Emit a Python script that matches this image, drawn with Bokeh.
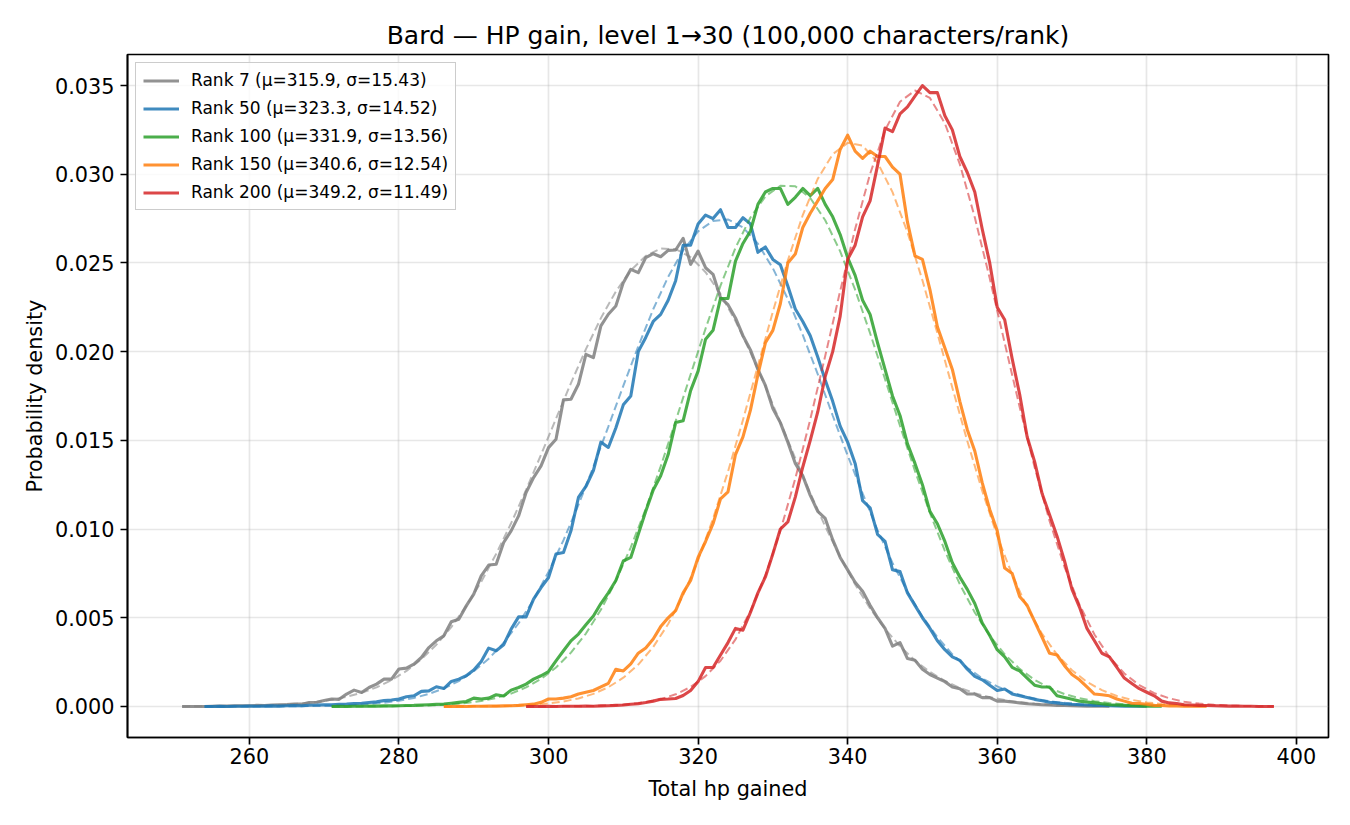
from bokeh.plotting import figure
from bokeh.models import Range1d, FixedTicker, PrintfTickFormatter, Legend, LegendItem
from bokeh.embed import file_html
from bokeh.resources import INLINE

FONT = "DejaVu Sans"

# ---------------- data ----------------
ranks = [7, 50, 100, 150, 200]
mus = [315.9, 323.3, 331.9, 340.6, 349.2]
sigmas = [15.43, 14.52, 13.56, 12.54, 11.49]
colors = ["#7f7f7f", "#1f77b4", "#2ca02c", "#ff7f0e", "#d62728"]

x_ticks = [260, 280, 300, 320, 340, 360, 380, 400]
y_ticks = [0.0, 0.005, 0.010, 0.015, 0.020, 0.025, 0.030, 0.035]

# empirical densities, one value per hp (first hp given by *_start)
rank7_start = 251
rank7_density = [
    0.0, 0.0, 0.0, 0.0, 0.00001, 0.00002, 0.00002, 0.00003, 0.00004, 0.00004,
    0.00006, 0.00005, 0.00008, 0.0001, 0.00011, 0.00014, 0.00013, 0.00022, 0.00024, 0.00033,
    0.00042, 0.0004, 0.0007, 0.00092, 0.00079, 0.00107, 0.00126, 0.00154, 0.00154, 0.00211,
    0.00216, 0.00239, 0.00276, 0.00332, 0.0037, 0.00398, 0.00477, 0.00492, 0.00567, 0.00633,
    0.00736, 0.00797, 0.00802, 0.00924, 0.0099, 0.01074, 0.01206, 0.0129, 0.01356, 0.01459,
    0.01506, 0.01728, 0.01732, 0.01816, 0.01985, 0.01966, 0.02145, 0.02211, 0.02257, 0.02389,
    0.02464, 0.02445, 0.0253, 0.02552, 0.02535, 0.02571, 0.02573, 0.02639, 0.02492, 0.02567,
    0.02473, 0.02436, 0.02304, 0.02265, 0.0219, 0.0209, 0.0201, 0.0190, 0.0181, 0.0168,
    0.0160, 0.0149, 0.0137, 0.0130, 0.0119, 0.0110, 0.0106, 0.0094, 0.0084, 0.0077,
    0.0070, 0.0065, 0.0057, 0.0050, 0.0044, 0.0034, 0.0036, 0.0027, 0.0026, 0.0021,
    0.0018, 0.0016, 0.0014, 0.0011, 0.0010, 0.0007, 0.0007, 0.0005, 0.0005, 0.0003,
    0.0003, 0.00025, 0.0002, 0.00015, 0.00012, 0.0001, 0.00008, 0.00006, 0.00005, 0.00004,
    0.00003, 0.00002, 0.00002, 0.00001, 0.00001,
]

rank50_start = 254
rank50_density = [
    0.0, 0.0, 0.00001, 0.0, 0.00001, 0.00001, 0.00002,
    0.00001, 0.00002, 0.00003, 0.00002, 0.00004, 0.00005, 0.00004, 0.00007, 0.00008, 0.0001,
    0.00009, 0.00012, 0.00013, 0.00016, 0.00018, 0.00022, 0.00026, 0.00033, 0.00036, 0.00042,
    0.00055, 0.0006, 0.00085, 0.00088, 0.00111, 0.00101, 0.00141, 0.00154, 0.00173, 0.00205,
    0.00254, 0.00329, 0.00314, 0.00348, 0.00436, 0.00505, 0.00505, 0.00605, 0.0067, 0.00727,
    0.00859, 0.00868, 0.0099, 0.01178, 0.0124, 0.0133, 0.0149, 0.0146, 0.0157, 0.0170,
    0.0175, 0.0200, 0.0208, 0.0217, 0.0221, 0.0229, 0.0240, 0.0260, 0.0260, 0.0272,
    0.0277, 0.0275, 0.0280, 0.0270, 0.0270, 0.02755, 0.0272, 0.0256, 0.0259, 0.0252,
    0.0249, 0.0237, 0.0224, 0.0217, 0.0209, 0.0197, 0.0184, 0.0172, 0.0158, 0.0149,
    0.0137, 0.0116, 0.0112, 0.0097, 0.0093, 0.0077, 0.0076, 0.0064, 0.0057, 0.0050,
    0.0044, 0.0037, 0.0032, 0.0028, 0.0026, 0.0021, 0.0017, 0.0015, 0.0012, 0.0009,
    0.00098, 0.0007, 0.0006, 0.0005, 0.0004, 0.00032, 0.00024, 0.0002, 0.00015, 0.00012,
    0.0001, 0.00008, 0.00006, 0.00005, 0.00004, 0.00003, 0.00002, 0.00002, 0.00001, 0.00001,
]

rank100_start = 271
rank100_density = [
    0.0, 0.00001, 0.0, 0.00001, 0.00001, 0.00002, 0.00002, 0.00003, 0.00003, 0.00004,
    0.00005, 0.00006, 0.00008, 0.0001, 0.00012, 0.00013, 0.00018, 0.00023, 0.00028, 0.00047,
    0.00042, 0.00047, 0.00066, 0.00059, 0.00092, 0.00107, 0.00126, 0.00154, 0.00173, 0.00197,
    0.00257, 0.00314, 0.0037, 0.00408, 0.0046, 0.0051, 0.0058, 0.0064, 0.0071, 0.0082,
    0.0084, 0.0097, 0.0110, 0.0122, 0.0130, 0.0142, 0.0160, 0.0161, 0.0178, 0.0189,
    0.0207, 0.0212, 0.0230, 0.0230, 0.0251, 0.0261, 0.0268, 0.0283, 0.0290, 0.0292,
    0.0292, 0.0283, 0.0287, 0.0292, 0.0288, 0.0292, 0.0283, 0.0276, 0.0266, 0.0253,
    0.0243, 0.0229, 0.0221, 0.0205, 0.0190, 0.0175, 0.0164, 0.0148, 0.0137, 0.0125,
    0.0110, 0.0103, 0.0093, 0.0081, 0.0073, 0.0066, 0.0058, 0.0047, 0.0040, 0.0032,
    0.0028, 0.0022, 0.0020, 0.0016, 0.0012, 0.0011, 0.0011, 0.0006, 0.0005, 0.0004,
    0.0003, 0.00025, 0.0002, 0.00015, 0.0001, 0.00008, 0.00006, 0.00004, 0.00003, 0.00002,
    0.00001, 0.00001,
]

rank150_start = 286
rank150_density = [
    0.0, 0.0, 0.00001, 0.0, 0.00001,
    0.00001, 0.00002, 0.00002, 0.00003, 0.00004, 0.00006, 0.0001, 0.00013, 0.00023, 0.00042,
    0.00042, 0.00047, 0.00055, 0.0007, 0.0008, 0.0009, 0.0011, 0.0013, 0.0021, 0.0020,
    0.0024, 0.0030, 0.0033, 0.0038, 0.0045, 0.0050, 0.0054, 0.0064, 0.0071, 0.0084,
    0.0093, 0.0103, 0.0117, 0.0121, 0.0142, 0.0152, 0.0167, 0.0187, 0.0205, 0.0212,
    0.0227, 0.0250, 0.0255, 0.0270, 0.0278, 0.0285, 0.0292, 0.0297, 0.0314, 0.0322,
    0.0313, 0.0309, 0.0313, 0.0310, 0.0310, 0.0304, 0.0300, 0.0273, 0.0254, 0.0252,
    0.0235, 0.0214, 0.0202, 0.0190, 0.0172, 0.0156, 0.0144, 0.0126, 0.0111, 0.0099,
    0.0078, 0.0075, 0.0062, 0.0057, 0.0048, 0.0039, 0.0030, 0.0029, 0.0023, 0.0018,
    0.0015, 0.0011, 0.0007, 0.00066, 0.0006, 0.00042, 0.0003, 0.00018, 0.00017, 0.00012,
    0.00006, 0.00005, 0.00003, 0.00003, 0.00002, 0.00001, 0.00001, 0.00001,
]

rank200_start = 297
rank200_density = [
    0.0, 0.0, 0.0, 0.00001,
    0.0, 0.00001, 0.00001, 0.00001, 0.00002, 0.00001, 0.00003, 0.00004, 0.00006, 0.00008,
    0.00012, 0.00015, 0.00022, 0.0003, 0.0004, 0.00042, 0.00045, 0.00062, 0.0009, 0.0014,
    0.0022, 0.0022, 0.0029, 0.0036, 0.0044, 0.0043, 0.0053, 0.0064, 0.0073, 0.0086,
    0.0100, 0.0104, 0.0118, 0.0135, 0.0150, 0.0166, 0.0186, 0.0200, 0.0220, 0.0252,
    0.0260, 0.0276, 0.0285, 0.0305, 0.0326, 0.0324, 0.0334, 0.0338, 0.0344, 0.0350,
    0.0346, 0.0346, 0.0333, 0.0325, 0.0310, 0.0301, 0.0290, 0.0269, 0.0250, 0.0225,
    0.0218, 0.0196, 0.0176, 0.0152, 0.0138, 0.0120, 0.0108, 0.0096, 0.0082, 0.0066,
    0.0056, 0.0044, 0.0037, 0.0030, 0.0028, 0.0022, 0.0016, 0.0013, 0.0010, 0.0008,
    0.0006, 0.0003, 0.0002, 0.00017, 0.0001, 0.00008, 0.00006, 0.00005, 0.00004, 0.00003,
    0.00002, 0.00002, 0.00001, 0.00001, 0.0, 0.0, 0.0,
]

# fitted normal curves (dashed), read every 2 hp from the picture
fit7_start = 251
fit7_density = [
    0.0000037, 0.0000065, 0.0000107, 0.000017, 0.000027, 0.000046, 0.0000724, 0.000112,
    0.000171, 0.000255, 0.000375, 0.000542, 0.000771, 0.001077, 0.00148, 0.002002,
    0.002664, 0.00348, 0.004475, 0.005656, 0.00703, 0.0086, 0.01033, 0.01221,
    0.01419, 0.01622, 0.01823, 0.02014, 0.02189, 0.02339, 0.02458, 0.0254,
    0.02581, 0.02578, 0.02533, 0.02448, 0.02325, 0.02172, 0.01996, 0.01803,
    0.01601, 0.01399, 0.01202, 0.01015, 0.00843, 0.00688, 0.00553, 0.00437,
    0.003392, 0.00259, 0.001945, 0.001437, 0.001043, 0.000745, 0.000523, 0.00036,
    0.00024, 0.00016, 0.00011, 0.00007, 0.000045, 0.000028, 0.000017,
]
fit50_start = 254
fit50_density = [
    0.0000003, 0.0000006, 0.0000012, 0.0000021, 0.0000039, 0.0000066, 0.000012, 0.00002,
    0.0000326, 0.0000536, 0.0000863, 0.000136, 0.000212, 0.000322, 0.000481, 0.000705,
    0.001015, 0.001431, 0.001981, 0.002692, 0.003589, 0.00469, 0.00602, 0.007585,
    0.00937, 0.01136, 0.01351, 0.01577, 0.01807, 0.0203, 0.02239, 0.02422,
    0.02571, 0.02678, 0.02737, 0.02745, 0.02701, 0.02608, 0.0247, 0.02297,
    0.02094, 0.01873, 0.0164, 0.01415, 0.01201, 0.00994, 0.00809, 0.00646,
    0.00507, 0.0039, 0.00294, 0.00218, 0.00158, 0.00113, 0.00079, 0.00054,
    0.00036, 0.00024, 0.00016, 0.0001, 0.000062, 0.000038, 0.000023, 0.000013,
]
fit100_start = 271
fit100_density = [
    0.0000012, 0.0000024, 0.0000044, 0.0000085, 0.0000145, 0.000025, 0.000044, 0.0000744,
    0.000123, 0.000197, 0.000311, 0.00048, 0.000725, 0.001072, 0.00155, 0.002194,
    0.003036, 0.00411, 0.005449, 0.00707, 0.00897, 0.01114, 0.01353, 0.01609,
    0.01871, 0.0213, 0.02372, 0.02585, 0.02756, 0.02875, 0.02935, 0.02932,
    0.02866, 0.02741, 0.02565, 0.02349, 0.02104, 0.01845, 0.01582, 0.01328,
    0.01091, 0.00877, 0.00689, 0.0053, 0.00399, 0.00294, 0.00212, 0.0015,
    0.00103, 0.0007, 0.00046, 0.0003, 0.00019, 0.00012, 0.00007, 0.00004,
]
fit150_start = 286
fit150_density = [
    0.0000024, 0.0000045, 0.0000093, 0.000017, 0.000032, 0.000057, 0.000099, 0.000168,
    0.000279, 0.00045, 0.000707, 0.001084, 0.00162, 0.00236, 0.003353, 0.004644,
    0.00627, 0.008251, 0.01059, 0.01324, 0.01615, 0.0192, 0.02225, 0.02514,
    0.0277, 0.02974, 0.03113, 0.03177, 0.03161, 0.03066, 0.02899, 0.02673,
    0.02402, 0.02104, 0.01797, 0.01496, 0.01215, 0.00961, 0.00742, 0.00558,
    0.00409, 0.00292, 0.00204, 0.00138, 0.00092, 0.00059, 0.00037, 0.00023,
    0.00014, 0.00008, 0.000045, 0.000025,
]
fit200_start = 297
fit200_density = [
    0.000001, 0.000002, 0.000005, 0.000009, 0.000021, 0.000041, 0.000076, 0.000138,
    0.000243, 0.000413, 0.000684, 0.001098, 0.001709, 0.002579, 0.003778, 0.005371,
    0.0074, 0.0099, 0.01285, 0.01618, 0.01976, 0.02342, 0.02691, 0.03002,
    0.03248, 0.03409, 0.03472, 0.0343, 0.03287, 0.03057, 0.02757, 0.02413,
    0.02049, 0.01688, 0.01349, 0.01046, 0.00786, 0.00574, 0.00406, 0.00279,
    0.00186, 0.0012, 0.00075, 0.00046, 0.00027, 0.00016, 0.00009, 0.00005,
    0.000025, 0.000012, 0.000006,
]

empirical = [
    (rank7_start, rank7_density),
    (rank50_start, rank50_density),
    (rank100_start, rank100_density),
    (rank150_start, rank150_density),
    (rank200_start, rank200_density),
]
fits = [
    (fit7_start, fit7_density),
    (fit50_start, fit50_density),
    (fit100_start, fit100_density),
    (fit150_start, fit150_density),
    (fit200_start, fit200_density),
]

# ---------------- figure ----------------
p = figure(
    width=1342, height=817,
    output_backend="svg", toolbar_location=None,
    x_range=Range1d(243.7, 404.3), y_range=Range1d(-0.00175, 0.03675),
    min_border_left=127, min_border_right=14, min_border_top=54, min_border_bottom=80,
    background_fill_color="white", border_fill_color="white",
)

p.title.text = "Bard \u2014 HP gain, level 1\u219230 (100,000 characters/rank)"
p.title.align = "center"
p.title.text_font = FONT
p.title.text_font_size = "25px"
p.title.text_font_style = "normal"
p.title.text_color = "black"
p.title.standoff = 10

p.outline_line_color = "black"
p.outline_line_width = 1.7

for ax in (p.xaxis[0], p.yaxis[0]):
    ax.axis_line_color = "black"
    ax.axis_line_width = 1.7
    ax.major_tick_line_color = "black"
    ax.major_tick_line_width = 1.7
    ax.major_tick_out = 7
    ax.major_tick_in = 0
    ax.minor_tick_line_color = None
    ax.major_label_text_font = FONT
    ax.major_label_text_font_size = "20.8px"
    ax.major_label_text_color = "black"
    ax.axis_label_text_font = FONT
    ax.axis_label_text_font_size = "20.8px"
    ax.axis_label_text_font_style = "normal"
    ax.axis_label_text_color = "black"

p.xaxis.major_label_standoff = 3
p.yaxis.major_label_standoff = 6
p.xaxis.axis_label_standoff = 10
p.yaxis.axis_label_standoff = 5

p.xaxis.axis_label = "Total hp gained"
p.yaxis.axis_label = "Probability density"
p.xaxis.ticker = FixedTicker(ticks=x_ticks)
p.yaxis.ticker = FixedTicker(ticks=y_ticks)
p.yaxis.formatter = PrintfTickFormatter(format="%.3f")

p.xgrid.ticker = FixedTicker(ticks=x_ticks)
p.ygrid.ticker = FixedTicker(ticks=y_ticks)
for g in (p.xgrid[0], p.ygrid[0]):
    g.grid_line_color = "#b0b0b0"
    g.grid_line_alpha = 0.3
    g.grid_line_width = 1.7

items = []
for rank, mu, sd, col, (s0, dens), (f0, fdens) in zip(ranks, mus, sigmas, colors, empirical, fits):
    hp = [s0 + i for i in range(len(dens))]
    r = p.line(hp, dens, line_color=col, line_alpha=0.85, line_width=3.1, line_join="round")
    fhp = [f0 + 2 * i for i in range(len(fdens))]
    p.line(fhp, fdens, line_color=col, line_alpha=0.55, line_width=2.0, line_dash="8 4")
    items.append(LegendItem(label=f"Rank {rank} (\u03bc={mu:.1f}, \u03c3={sd:.2f})", renderers=[r]))

legend = Legend(
    items=items, location="top_left", margin=8,
    padding=7, spacing=8,
    label_text_font=FONT, label_text_font_size="17px", label_text_color="black",
    label_height=17, glyph_height=17, glyph_width=36, label_standoff=12,
    border_line_color="#cccccc", border_line_width=1.7, border_line_alpha=1.0,
    background_fill_color="white", background_fill_alpha=0.8,
)
p.add_layout(legend)

open("out.html", "w").write(file_html(p, INLINE))
